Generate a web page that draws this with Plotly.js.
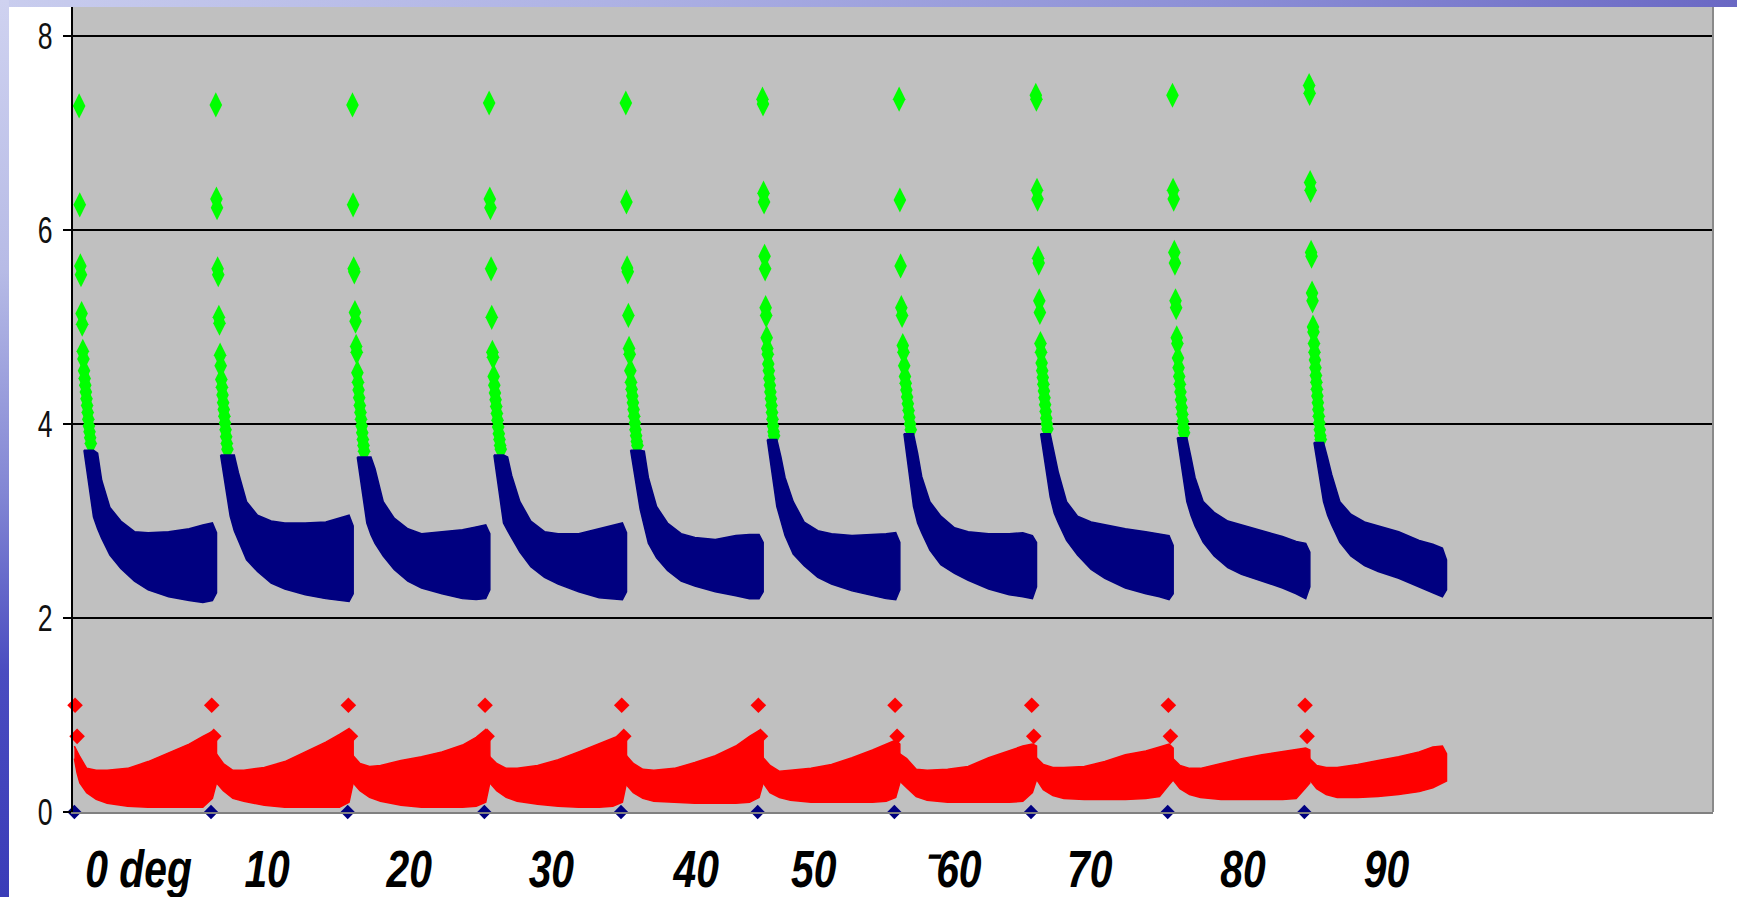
<!DOCTYPE html>
<html>
<head>
<meta charset="utf-8">
<script src="https://cdn.plot.ly/plotly-3.0.1.min.js"></script>
<style>
  html, body { margin: 0; padding: 0; background: #ffffff; overflow: hidden; }
  #topband { position: absolute; left: 0; top: 0; width: 1737px; height: 7px;
    background: linear-gradient(90deg, #c9cdee 0%, #aeb2e4 35%, #8c8fd6 70%, #6a68c4 100%); z-index: 2; }
  #leftband { position: absolute; left: 0; top: 0; width: 9px; height: 897px;
    background: linear-gradient(180deg, #cfd2f0 0%, #b7bbe6 30%, #8286d4 55%, #4a4cc0 75%, #3a3cb8 100%); z-index: 2; }
  #chart { position: absolute; left: 0; top: 7px; width: 1737px; height: 890px; }
</style>
</head>
<body>
<div id="topband"></div>
<div id="leftband"></div>
<div id="chart"></div>
<script>
// ---- tick labels (text boxes under each sweep) ----
const angleLabels = ['0 deg', '10', '20', '30', '40', '50', '\u207B60', '70', '80', '90'];
const labelX = [48, 142, 246, 350, 456, 542, 643, 744, 856, 961];

// ---- each sweep occupies 100 samples on the x axis ----
const sweepIndex = [0, 1, 2, 3, 4, 5, 6, 7, 8, 9];

// ---- navy band: upper / lower envelope, sampled at these offsets within a sweep ----
const navyOffsets = [8, 15, 18, 21, 27, 35, 45, 55, 70, 85, 95, 102, 105];
const navyUpper = [
  [3.73, 3.73, 3.70, 3.42, 3.14, 3.00, 2.89, 2.88, 2.89, 2.92, 2.96, 2.98, 2.88],
  [3.68, 3.68, 3.68, 3.50, 3.20, 3.06, 3.00, 2.98, 2.98, 2.99, 3.03, 3.06, 2.95],
  [3.66, 3.66, 3.66, 3.54, 3.20, 3.03, 2.92, 2.87, 2.89, 2.91, 2.94, 2.96, 2.87],
  [3.68, 3.68, 3.66, 3.47, 3.20, 3.00, 2.89, 2.87, 2.87, 2.92, 2.96, 2.98, 2.88],
  [3.73, 3.73, 3.72, 3.45, 3.15, 2.98, 2.87, 2.83, 2.81, 2.85, 2.86, 2.86, 2.78],
  [3.84, 3.84, 3.66, 3.45, 3.20, 2.99, 2.90, 2.87, 2.85, 2.86, 2.87, 2.88, 2.78],
  [3.90, 3.90, 3.70, 3.46, 3.20, 3.05, 2.93, 2.89, 2.87, 2.87, 2.88, 2.85, 2.78],
  [3.90, 3.90, 3.70, 3.50, 3.20, 3.05, 2.99, 2.96, 2.92, 2.89, 2.87, 2.85, 2.75],
  [3.86, 3.86, 3.66, 3.45, 3.20, 3.09, 3.00, 2.96, 2.90, 2.84, 2.79, 2.77, 2.68],
  [3.81, 3.81, 3.65, 3.48, 3.20, 3.07, 2.99, 2.95, 2.89, 2.80, 2.76, 2.72, 2.60]
];
const navyLower = [
  [3.73, 3.04, 2.92, 2.82, 2.65, 2.51, 2.38, 2.29, 2.22, 2.18, 2.16, 2.18, 2.26],
  [3.68, 3.05, 2.90, 2.80, 2.60, 2.48, 2.36, 2.30, 2.24, 2.20, 2.18, 2.17, 2.25],
  [3.66, 2.98, 2.86, 2.77, 2.64, 2.50, 2.38, 2.31, 2.25, 2.20, 2.19, 2.20, 2.29],
  [3.68, 2.98, 2.90, 2.82, 2.68, 2.53, 2.42, 2.35, 2.27, 2.21, 2.20, 2.19, 2.27],
  [3.73, 3.12, 2.95, 2.77, 2.62, 2.49, 2.38, 2.33, 2.27, 2.23, 2.20, 2.20, 2.27],
  [3.84, 3.15, 3.00, 2.85, 2.66, 2.54, 2.42, 2.35, 2.28, 2.23, 2.20, 2.19, 2.29],
  [3.90, 3.15, 2.98, 2.88, 2.70, 2.55, 2.46, 2.39, 2.30, 2.24, 2.22, 2.20, 2.32],
  [3.90, 3.25, 3.08, 2.98, 2.80, 2.65, 2.50, 2.41, 2.31, 2.25, 2.22, 2.19, 2.25],
  [3.86, 3.20, 3.06, 2.95, 2.78, 2.64, 2.52, 2.45, 2.38, 2.31, 2.25, 2.20, 2.32],
  [3.81, 3.20, 3.06, 2.96, 2.78, 2.64, 2.54, 2.48, 2.41, 2.32, 2.26, 2.22, 2.29]
];

// ---- red band: upper / lower envelope ----
const redOffsets = [1, 3, 5, 10, 17, 25, 40, 55, 70, 85, 95, 102, 105];
const redUpper = [
  [0.68, 0.62, 0.57, 0.45, 0.43, 0.43, 0.45, 0.52, 0.61, 0.70, 0.78, 0.83, 0.76],
  [0.70, 0.65, 0.60, 0.50, 0.43, 0.43, 0.46, 0.52, 0.62, 0.72, 0.80, 0.86, 0.78],
  [0.70, 0.64, 0.58, 0.50, 0.47, 0.48, 0.53, 0.57, 0.62, 0.69, 0.77, 0.85, 0.76],
  [0.70, 0.62, 0.57, 0.50, 0.45, 0.45, 0.48, 0.54, 0.62, 0.70, 0.76, 0.80, 0.74],
  [0.70, 0.64, 0.58, 0.50, 0.44, 0.43, 0.45, 0.51, 0.58, 0.68, 0.78, 0.84, 0.76],
  [0.68, 0.62, 0.56, 0.48, 0.42, 0.43, 0.45, 0.49, 0.56, 0.64, 0.70, 0.74, 0.70],
  [0.68, 0.62, 0.60, 0.55, 0.44, 0.43, 0.44, 0.47, 0.56, 0.63, 0.68, 0.70, 0.68],
  [0.66, 0.60, 0.56, 0.49, 0.46, 0.46, 0.47, 0.52, 0.59, 0.63, 0.67, 0.70, 0.66],
  [0.66, 0.60, 0.55, 0.48, 0.45, 0.45, 0.50, 0.55, 0.59, 0.62, 0.64, 0.66, 0.64],
  [0.66, 0.60, 0.55, 0.48, 0.46, 0.46, 0.49, 0.53, 0.57, 0.62, 0.67, 0.68, 0.60]
];
const redLower = [
  [0.55, 0.40, 0.30, 0.20, 0.13, 0.09, 0.06, 0.05, 0.05, 0.05, 0.05, 0.14, 0.30],
  [0.45, 0.38, 0.30, 0.22, 0.14, 0.11, 0.07, 0.05, 0.05, 0.05, 0.05, 0.10, 0.30],
  [0.45, 0.38, 0.30, 0.22, 0.15, 0.11, 0.07, 0.05, 0.05, 0.05, 0.06, 0.10, 0.30],
  [0.45, 0.36, 0.30, 0.22, 0.15, 0.11, 0.08, 0.06, 0.05, 0.05, 0.06, 0.10, 0.30],
  [0.45, 0.36, 0.28, 0.20, 0.14, 0.11, 0.10, 0.09, 0.09, 0.09, 0.10, 0.15, 0.30],
  [0.45, 0.36, 0.30, 0.20, 0.15, 0.12, 0.10, 0.10, 0.10, 0.10, 0.11, 0.15, 0.30],
  [0.45, 0.38, 0.32, 0.25, 0.16, 0.12, 0.10, 0.10, 0.10, 0.10, 0.11, 0.20, 0.33],
  [0.45, 0.38, 0.33, 0.23, 0.17, 0.14, 0.13, 0.13, 0.13, 0.14, 0.16, 0.28, 0.33],
  [0.45, 0.38, 0.33, 0.24, 0.18, 0.15, 0.13, 0.13, 0.13, 0.13, 0.14, 0.25, 0.30],
  [0.45, 0.38, 0.33, 0.24, 0.18, 0.15, 0.15, 0.16, 0.18, 0.21, 0.25, 0.30, 0.32]
];

// ---- green diamonds: first samples of each sweep (descending) ----
const greenValues = [
  [7.28, 6.26, 5.63, 5.54, 5.14, 5.03, 4.75, 4.67, 4.55, 4.47, 4.40, 4.33, 4.26, 4.19, 4.12, 4.05, 3.98, 3.92, 3.86, 3.80],
  [7.29, 6.32, 6.23, 5.60, 5.54, 5.10, 5.04, 4.71, 4.60, 4.46, 4.38, 4.30, 4.22, 4.15, 4.08, 4.01, 3.94, 3.87, 3.80, 3.74],
  [7.29, 6.26, 5.60, 5.57, 5.15, 5.06, 4.80, 4.74, 4.53, 4.43, 4.35, 4.27, 4.19, 4.12, 4.05, 3.98, 3.91, 3.84, 3.78, 3.72],
  [7.31, 6.32, 6.23, 5.60, 5.10, 4.74, 4.69, 4.49, 4.40, 4.32, 4.25, 4.18, 4.11, 4.04, 3.97, 3.90, 3.84, 3.78, 3.74],
  [7.31, 6.29, 5.61, 5.57, 5.12, 4.78, 4.72, 4.55, 4.43, 4.36, 4.29, 4.22, 4.15, 4.08, 4.01, 3.94, 3.88, 3.82, 3.78],
  [7.35, 7.30, 6.38, 6.29, 5.73, 5.60, 5.20, 5.12, 4.89, 4.78, 4.72, 4.62, 4.55, 4.47, 4.40, 4.33, 4.26, 4.19, 4.12, 4.05, 3.98, 3.92, 3.88],
  [7.35, 6.31, 5.63, 5.20, 5.12, 4.81, 4.74, 4.60, 4.49, 4.42, 4.35, 4.28, 4.21, 4.14, 4.07, 4.00, 3.94],
  [7.39, 7.35, 6.41, 6.32, 5.71, 5.66, 5.27, 5.15, 4.83, 4.74, 4.63, 4.55, 4.48, 4.41, 4.34, 4.27, 4.20, 4.13, 4.06, 4.00, 3.95],
  [7.39, 6.41, 6.32, 5.77, 5.66, 5.27, 5.20, 4.89, 4.83, 4.68, 4.58, 4.49, 4.41, 4.33, 4.25, 4.17, 4.10, 4.03, 3.96, 3.91],
  [7.49, 7.41, 6.49, 6.41, 5.77, 5.73, 5.35, 5.27, 5.00, 4.95, 4.83, 4.74, 4.66, 4.58, 4.50, 4.43, 4.36, 4.29, 4.22, 4.15, 4.08, 4.01, 3.94, 3.88, 3.84]
];
const greenFirstOffset = 4.5;
const greenLastOffset = 13;

// ---- red start spikes and navy zero samples ----
const redSpikeHigh = [1.10, 1.10, 1.10, 1.10, 1.10, 1.10, 1.10, 1.10, 1.10, 1.10];
const redSpikeLow  = [0.78, 0.78, 0.78, 0.78, 0.78, 0.78, 0.78, 0.78, 0.78, 0.78];
const zeroSamples  = [0, 0, 0, 0, 0, 0, 0, 0, 0, 0];
const SWEEP = 100;

// ---------------- build traces ----------------
const traces = [];
function band(offsets, up, lo, color) {
  sweepIndex.forEach((k, i) => {
    const xs = [], ys = [];
    offsets.forEach((o, j) => { xs.push(k * SWEEP + o); ys.push(up[i][j]); });
    for (let j = offsets.length - 1; j >= 0; j--) { xs.push(k * SWEEP + offsets[j]); ys.push(lo[i][j]); }
    traces.push({ x: xs, y: ys, type: 'scatter', mode: 'lines', fill: 'toself',
      fillcolor: color, line: { color: color, width: 1.5 }, hoverinfo: 'skip' });
  });
}

// red band
band(redOffsets, redUpper, redLower, '#ff0000');

// green diamonds (drawn before navy so the navy band covers their tips)
const gx = [], gy = [];
sweepIndex.forEach((k, i) => {
  const n = greenValues[i].length;
  greenValues[i].forEach((v, j) => {
    gx.push(k * SWEEP + greenFirstOffset + (greenLastOffset - greenFirstOffset) * j / (n - 1));
    gy.push(v);
  });
});
traces.push({ x: gx, y: gy, type: 'scatter', mode: 'markers', cliponaxis: false,
  marker: { symbol: 'diamond-tall', size: 18, color: '#00ff00', line: { width: 0 } } });

// navy band
band(navyOffsets, navyUpper, navyLower, '#000080');

// red spike diamonds
traces.push({ x: sweepIndex.map(k => k * SWEEP + 1.5), y: redSpikeHigh, type: 'scatter', mode: 'markers',
  cliponaxis: false, marker: { symbol: 'diamond', size: 12, color: '#ff0000', line: { width: 0 } } });
traces.push({ x: sweepIndex.map(k => k * SWEEP + 3), y: redSpikeLow, type: 'scatter', mode: 'markers',
  cliponaxis: false, marker: { symbol: 'diamond', size: 12, color: '#ff0000', line: { width: 0 } } });

// navy zero samples
traces.push({ x: sweepIndex.map(k => k * SWEEP + 1), y: zeroSamples, type: 'scatter', mode: 'markers',
  cliponaxis: false, marker: { symbol: 'diamond', size: 11, color: '#000080', line: { width: 0 } } });

const sans = '"Liberation Sans", Arial, sans-serif';

const layout = {
  width: 1737, height: 890,
  margin: { l: 73, r: 24, t: 0, b: 85, pad: 0 },
  paper_bgcolor: '#ffffff',
  plot_bgcolor: '#c0c0c0',
  showlegend: false,
  xaxis: {
    range: [0, 1200], fixedrange: true,
    showgrid: false, zeroline: false,
    showline: true, linecolor: '#808080', linewidth: 2,
    tickmode: 'array', tickvals: labelX, ticktext: angleLabels,
    ticks: '', ticklabelstandoff: 12,
    tickfont: { family: sans, size: 51, color: '#000000', weight: 700, style: 'italic' }
  },
  yaxis: {
    range: [0, 8.3], fixedrange: true,
    tick0: 0, dtick: 2,
    showgrid: true, gridcolor: '#000000', gridwidth: 2,
    zeroline: false,
    showline: true, linecolor: '#000000', linewidth: 2,
    ticks: 'outside', ticklen: 8, tickwidth: 2, tickcolor: '#000000',
    ticklabelstandoff: 3,
    tickfont: { family: sans, size: 37, color: '#111111' }
  },
  shapes: [
    { type: 'line', xref: 'paper', yref: 'paper', x0: 1, x1: 1, y0: 0, y1: 1,
      line: { color: '#8a8a8a', width: 2 } }
  ]
};

// the slide uses a condensed face: narrow the glyphs horizontally around each label's anchor
function squeeze(selector, s) {
  document.querySelectorAll('#chart ' + selector).forEach(el => {
    const x = parseFloat(el.getAttribute('x')) || 0;
    const t = el.getAttribute('transform') || '';
    el.setAttribute('transform', t + ' translate(' + x + ',0) scale(' + s + ',1) translate(' + (-x) + ',0)');
  });
}

Plotly.newPlot('chart', traces, layout, { displayModeBar: false, staticPlot: true }).then(() => {
  squeeze('.xtick text', 0.8);
  squeeze('.ytick text', 0.72);
});
</script>
</body>
</html>
